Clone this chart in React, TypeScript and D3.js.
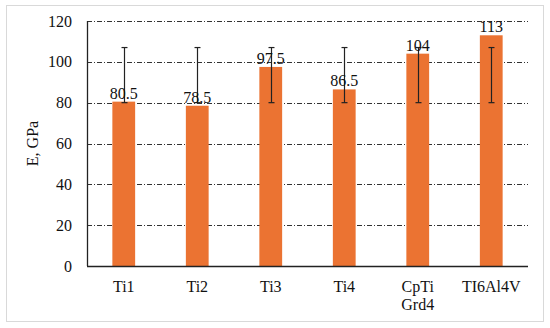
import React from "react";
import * as d3 from "d3";

const categories = ["Ti1", "Ti2", "Ti3", "Ti4", "CpTi\nGrd4", "TI6Al4V"];
const values = [80.5, 78.5, 97.5, 86.5, 104, 113];
const labels = ["80.5", "78.5", "97.5", "86.5", "104", "113"];
const errLow = [80, 80, 80, 80, 80, 80];
const errHigh = [107, 107, 107, 107, 107, 107];
const yTicks = [0, 20, 40, 60, 80, 100, 120];

const width = 550;
const height = 328;
const margin = { left: 87, right: 22, top: 21, bottom: 62 };
const font = "Liberation Serif";

const App = () => {
  const x = d3
    .scaleBand()
    .domain(categories)
    .range([margin.left, width - margin.right])
    .paddingInner(0.69)
    .paddingOuter(0.345);

  const y = d3
    .scaleLinear()
    .domain([0, 120])
    .range([height - margin.bottom, margin.top]);

  const cx = (c: string) => x(c)! + x.bandwidth() / 2;
  const y0 = Math.round(y(0)) + 0.5;

  return (
    <svg
      width={width}
      height={height}
      style={{ position: "absolute", left: 0, top: 0 }}
      fontFamily={font}
      fontSize={16}
    >
      {/* outer frame */}
      <rect x={6.5} y={5.5} width={537} height={316} fill="white" stroke="#d9d9d9" />

      {/* grid lines */}
      {yTicks.slice(1).map((t) => (
        <line
          key={t}
          x1={margin.left}
          x2={width - margin.right}
          y1={Math.round(y(t)) + 0.5}
          y2={Math.round(y(t)) + 0.5}
          stroke="#333"
          strokeWidth={1}
          strokeDasharray="5,2,1,2"
        />
      ))}

      {/* bars */}
      {values.map((v, i) => (
        <rect
          key={categories[i]}
          x={x(categories[i])}
          y={y(v)}
          width={x.bandwidth()}
          height={y(0) - y(v)}
          fill="#eb7332"
        />
      ))}

      {/* error bars */}
      {values.map((v, i) => {
        const px = Math.round(cx(categories[i])) + 0.5;
        return (
          <g key={"e" + i} stroke="#222" strokeWidth={1.2}>
            <line x1={px} x2={px} y1={y(errLow[i])} y2={y(errHigh[i])} />
            <line x1={px - 3} x2={px + 3} y1={y(errLow[i])} y2={y(errLow[i])} />
            <line x1={px - 3} x2={px + 3} y1={y(errHigh[i])} y2={y(errHigh[i])} />
          </g>
        );
      })}

      {/* value labels */}
      {values.map((v, i) => (
        <text
          key={"v" + i}
          x={cx(categories[i])}
          y={y(v) - 3}
          textAnchor="middle"
          fill="#111"
          fontFamily={font}
        >
          {labels[i]}
        </text>
      ))}

      {/* axes */}
      <line x1={margin.left + 0.5} x2={margin.left + 0.5} y1={y(120)} y2={y(0)} stroke="#222" strokeWidth={1.3} />
      <line x1={margin.left} x2={width - margin.right} y1={y0} y2={y0} stroke="#222" strokeWidth={1.3} />

      {/* y tick labels */}
      {yTicks.map((t) => (
        <text key={"t" + t} x={72} y={y(t) + 5.5} textAnchor="end" fill="#111" fontFamily={font}>
          {t}
        </text>
      ))}

      {/* x labels */}
      {categories.map((c) => (
        <text key={"x" + c} x={cx(c)} y={292} textAnchor="middle" fill="#111" fontFamily={font}>
          {c.split("\n").map((l, j) => (
            <tspan key={j} x={cx(c)} dy={j === 0 ? 0 : 17.5}>
              {l}
            </tspan>
          ))}
        </text>
      ))}

      {/* y axis title */}
      <text
        transform={`translate(38, ${(y(0) + y(120)) / 2}) rotate(-90)`}
        textAnchor="middle"
        fill="#111"
        fontFamily={font}
      >
        E, GPa
      </text>
    </svg>
  );
};

export default App;
